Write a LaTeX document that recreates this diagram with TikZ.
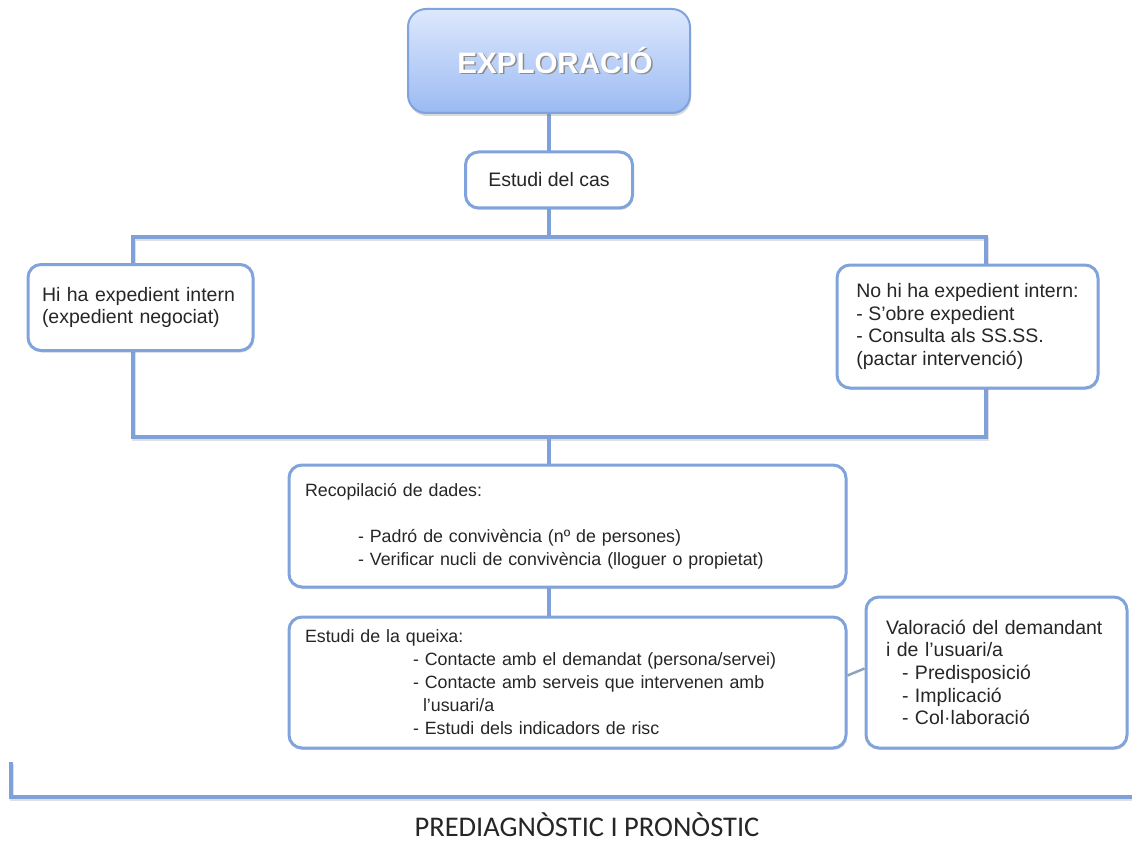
\documentclass[tikz,border=0pt]{standalone}
\usepackage{fontspec}
\setmainfont{Liberation Sans}
\newfontfamily\calib{Carlito}
\usetikzlibrary{shadows}
\definecolor{lineblue}{HTML}{7DA1D8}
\definecolor{boxblue}{HTML}{7FA3DA}
\definecolor{topA}{HTML}{DDE8FC}
\definecolor{topB}{HTML}{9BBAF3}
\definecolor{txt}{HTML}{262626}
\definecolor{linkgray}{HTML}{8FA3C0}
\hyphenpenalty=10000
\begin{document}
\begin{tikzpicture}[x=1pt,y=-1pt,
  box/.style={draw=boxblue, line width=3pt, fill=white, rounded corners=13pt,
    text=txt, align=left, inner ysep=0pt,
    drop shadow={shadow xshift=1pt, shadow yshift=-2pt, opacity=0.25}},
  big/.style={font=\fontsize{19.5}{22.7}\selectfont},
  small/.style={font=\fontsize{17.8}{23}\selectfont},
  conn/.style={draw=lineblue, line width=4pt},
  shade/.style={draw=black!35, line width=4pt, opacity=0.35}
]
\useasboundingbox (0,0) rectangle (1132,845);

% coordinates for the bracket
\coordinate (btl) at (133,237);
\coordinate (btr) at (986,237);
\coordinate (bbl) at (133,437);
\coordinate (bbr) at (986,437);
\coordinate (btm) at (549,237);
\coordinate (bbm) at (549,437);
\coordinate (lb1) at (11,762);
\coordinate (lb2) at (11,797);
\coordinate (lb3) at (1132,797);

% shadows of lines
\draw[shade] ([shift={(1,2)}]btl) rectangle ([shift={(1,2)}]bbr);
\draw[shade] ([shift={(1,2)}]lb1) -- ([shift={(1,2)}]lb2) -- ([shift={(1,2)}]lb3);

% lines
\draw[conn] (549,100) -- (549,160);
\draw[conn] (549,200) -- (btm);
\draw[conn] (btl) rectangle (bbr);
\draw[conn] (bbm) -- (549,475);
\draw[conn] (549,580) -- (549,625);
\draw[conn] (lb1) -- (lb2) -- (lb3);

% top box
\node[draw=boxblue, line width=2pt, rounded corners=18pt,
  top color=topA, bottom color=topB,
  minimum width=282pt, minimum height=104pt,
  drop shadow={shadow xshift=1pt, shadow yshift=-3pt, opacity=0.3},
  font=\fontsize{29.5}{30}\selectfont\bfseries] (top) at (549,61)
  {\hspace*{12pt}\makebox[0pt][l]{\raisebox{-1.5pt}{\hspace{1.5pt}\textcolor{black!45}{EXPLORACIÓ}}}\textcolor{white}{EXPLORACIÓ}};

% estudi del cas
\node[box, big, align=center, minimum width=167pt, minimum height=56pt] (cas) at (549,180) {Estudi del cas};

% left and right
\node[box, big, inner xsep=14pt, text width=197pt, minimum height=86pt] (hi) at (140.5,307.5)
  {Hi ha expedient intern\\(expedient negociat)};
\node[box, big, inner xsep=8pt, minimum width=261pt, minimum height=123pt] (nohi) at (967.5,326.5)
  {No hi ha expedient intern:\\- S’obre expedient\\- Consulta als SS.SS.\\(pactar intervenció)};

% recopilacio
\node[box, small, inner xsep=16pt, text width=525pt, minimum height=122pt] (rec) at (567.5,526)
  {Recopilació de dades:\\[23pt]
   \hspace*{53pt}- Padró de convivència (nº de persones)\\
   \hspace*{53pt}- Verificar nucli de convivència (lloguer o propietat)};

% estudi de la queixa
\node[box, small, inner xsep=16pt, text width=525pt, minimum height=131pt] (que) at (567.5,682.5)
  {Estudi de la queixa:\\
   \hspace*{108pt}- Contacte amb el demandat (persona/servei)\\
   \hspace*{108pt}- Contacte amb serveis que intervenen amb\\
   \hspace*{118pt}l’usuari/a\\
   \hspace*{108pt}- Estudi dels indicadors de risc};

% valoracio
\node[box, big, inner xsep=20pt, text width=221pt, minimum height=151pt] (val) at (996.5,672.5)
  {Valoració del demandant\\i de l’usuari/a\\
   \hspace*{16pt}- Predisposició\\
   \hspace*{16pt}- Implicació\\
   \hspace*{16pt}- Col·laboració};

\draw[draw=linkgray, line width=2.5pt] ([yshift=7pt]que.east) -- ([yshift=4pt]val.west);

% bottom label
\node[font=\calib\fontsize{28.5}{30}\selectfont, text=black!85, inner sep=0pt] (pre) at (587,825) {PREDIAGNÒSTIC I PRONÒSTIC};
\end{tikzpicture}
\end{document}
